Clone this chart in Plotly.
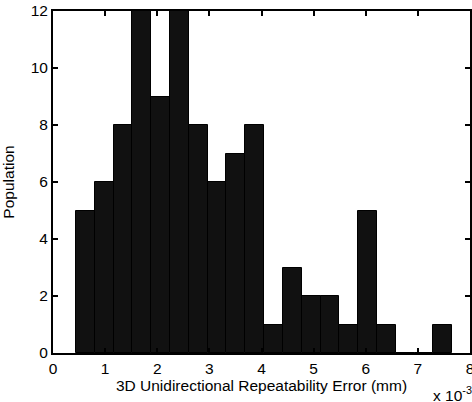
"""
Histogram of 3D unidirectional repeatability error (MATLAB-style look)
"""
import numpy as np
import plotly.graph_objects as go

# Bin range (in units of 1e-3 mm) and counts per bin
bin_min = 0.44
bin_max = 7.66
counts = [5, 6, 8, 12, 9, 12, 8, 6, 7, 8, 1, 3, 2, 2, 1, 5, 1, 0, 0, 1]
x_ticks = [0, 1, 2, 3, 4, 5, 6, 7, 8]
y_ticks = [0, 2, 4, 6, 8, 10, 12]

edges = np.linspace(bin_min, bin_max, len(counts) + 1)
centers = (edges[:-1] + edges[1:]) / 2
widths = np.diff(edges)

FONT = "Liberation Sans, Arial, Helvetica, sans-serif"
FSIZE = 15.5

fig = go.Figure()
fig.add_trace(
    go.Bar(
        x=centers,
        y=counts,
        width=widths,
        marker=dict(color='#111111', line=dict(color='#000000', width=1)),
        hovertemplate='%{x:.2f}e-3 mm<br>Population: %{y}<extra></extra>'
    )
)

axis_common = dict(
    showline=True,
    linecolor='black',
    linewidth=2,
    mirror='ticks',
    ticks='inside',
    ticklen=5,
    tickwidth=2,
    tickcolor='black',
    showgrid=False,
    zeroline=False,
    automargin=False,
    ticklabeloverflow='allow',
    tickfont=dict(family=FONT, size=FSIZE, color='black'),
)

fig.update_xaxes(
    range=[0, 8],
    tickvals=x_ticks,
    ticktext=[str(t) for t in x_ticks],
    title=dict(text='3D Unidirectional Repeatability Error (mm)',
               font=dict(family=FONT, size=FSIZE, color='black'),
               standoff=4),
    **axis_common
)
fig.update_yaxes(
    range=[0, 12],
    tickvals=y_ticks,
    title=dict(text='Population',
               font=dict(family=FONT, size=FSIZE, color='black'),
               standoff=12),
    **axis_common
)

fig.add_annotation(
    text='x 10<sup>-3</sup>',
    xref='paper', yref='paper',
    x=1.01, y=-0.085,
    xanchor='right', yanchor='top',
    showarrow=False,
    font=dict(family=FONT, size=FSIZE, color='black')
)

fig.update_layout(
    width=472,
    height=402,
    margin=dict(l=53, r=2, t=11, b=49),
    plot_bgcolor='white',
    paper_bgcolor='white',
    bargap=0,
    showlegend=False,
)

# drop the default 8px body margin so the figure sits at the page corner
fig.write_html("out.html",
               config={'displayModeBar': False},
               post_script="document.body.style.margin = '0';")
